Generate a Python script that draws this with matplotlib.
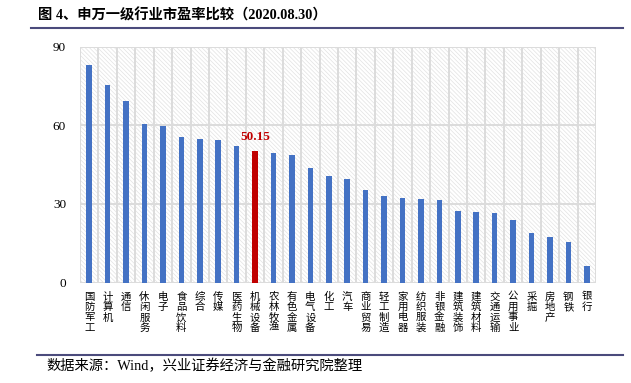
import matplotlib
matplotlib.use("Agg")
import matplotlib.pyplot as plt
from matplotlib.patches import Rectangle
from matplotlib.lines import Line2D

plt.rcParams['font.family'] = ['Liberation Serif', 'Noto Sans CJK SC', 'DejaVu Sans']
plt.rcParams['hatch.linewidth'] = 0.5

industries = ["国防军工", "计算机", "通信", "休闲服务", "电子", "食品饮料", "综合", "传媒",
              "医药生物", "机械设备", "农林牧渔", "有色金属", "电气设备", "化工", "汽车",
              "商业贸易", "轻工制造", "家用电器", "纺织服装", "非银金融", "建筑装饰",
              "建筑材料", "交通运输", "公用事业", "采掘", "房地产", "钢铁", "银行"]
pe = [82.9, 75.2, 69.1, 60.6, 59.7, 55.5, 54.8, 54.4, 52.2, 50.15, 49.2, 48.8, 43.7, 40.5,
      39.3, 35.1, 33.0, 32.2, 31.9, 31.3, 27.1, 27.0, 26.4, 24.0, 18.9, 17.2, 15.3, 6.3]
highlight = "机械设备"
yticks = [0, 30, 60, 90]

W, H = 631, 383
fig = plt.figure(figsize=(W / 100, H / 100), dpi=100)
ax = fig.add_axes([80 / W, 1 - 282.5 / H, (596 - 80) / W, (282.5 - 46.5) / H])

grid_c = "#DCDCDC"
# light diagonal hatch behind the plot area
ax.add_patch(Rectangle((0, 0), 1, 1, transform=ax.transAxes, fill=False,
                       hatch="\\" * 8, edgecolor="#E2E2E2", linewidth=0, zorder=0))

n = len(industries)
x = list(range(n))
colors = ["#C00000" if name == highlight else "#4472C4" for name in industries]
ax.bar(x, pe, width=0.3, color=colors, zorder=3)

for i in range(n + 1):
    ax.axvline(i - 0.5, color=grid_c, lw=1.4, zorder=1)
for t in yticks:
    ax.axhline(t, color=grid_c, lw=1.4, zorder=1)

hi = industries.index(highlight)
ax.text(hi, pe[hi] + 3, f"{pe[hi]:.2f}", color="#C00000", fontweight="bold",
        ha="center", va="bottom", fontsize=9.5, zorder=4)

ax.set_xlim(-0.5, n - 0.5)
ax.set_ylim(0, 90)
ax.set_yticks(yticks)
ax.set_yticklabels([str(t) for t in yticks], fontsize=9.5)
ax.tick_params(axis="y", length=0, pad=10)
ax.set_xticks([])
for s in ax.spines.values():
    s.set_visible(False)

# vertical category labels, one character per line
for i, name in enumerate(industries):
    ax.text(i, -3.5, "\n".join(name), ha="center", va="top", fontsize=7.5,
            linespacing=1.05, family=['Noto Sans CJK SC', 'DejaVu Sans'])

fig.text(38 / W, 1 - 15 / H, "图 4、申万一级行业市盈率比较（2020.08.30）",
         fontsize=10.3, fontweight="bold", va="center", ha="left")
fig.add_artist(Line2D([31 / W, 623 / W], [1 - 27.5 / H, 1 - 27.5 / H], color="#4B4B7C", lw=1.5))
fig.add_artist(Line2D([37 / W, 623 / W], [1 - 355 / H, 1 - 355 / H], color="#4B4B7C", lw=1.5))
fig.text(46 / W, 1 - 366 / H, "数据来源：Wind，兴业证券经济与金融研究院整理",
         fontsize=10.3, va="center", ha="left")

fig.savefig("out.png", dpi=100)
